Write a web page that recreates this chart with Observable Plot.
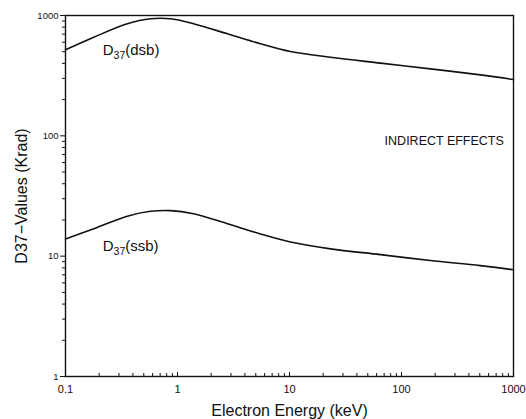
<!DOCTYPE html>
<html>
<head>
<meta charset="utf-8">
<script src="https://cdn.jsdelivr.net/npm/d3@7"></script>
<script src="https://cdn.jsdelivr.net/npm/@observablehq/plot@0.6"></script>
<style>
  html, body { margin: 0; padding: 0; background: #fff; }
  #chart { width: 526px; height: 419px; }
  svg { font-family: "Liberation Sans", "DejaVu Sans", sans-serif; }
</style>
</head>
<body>
<div id="chart"></div>
<script>
// Electron energy (keV)
const energy = [0.1, 0.179, 0.356, 0.574, 0.866, 1.39, 2.79, 5.5, 10.2, 23.2, 65, 181, 507, 1000];
// D37 values (krad), double-strand breaks
const dsb = [519, 660, 853, 939, 939, 853, 705, 582, 502, 450, 402, 360, 321, 294];
// D37 values (krad), single-strand breaks
const ssb = [13.9, 16.9, 21.5, 23.6, 23.9, 22.5, 18.6, 15.3, 13.1, 11.5, 10.3, 9.2, 8.35, 7.7];

const xMajor = [0.1, 1, 10, 100, 1000];
const yMajor = [1, 10, 100, 1000];
const xMinor = d3.range(-1, 3).flatMap(e => d3.range(2, 10).map(m => m * 10 ** e));
const yMinor = d3.range(0, 3).flatMap(e => d3.range(2, 10).map(m => m * 10 ** e));

const series = [
  ...energy.map((x, i) => ({x, y: dsb[i], s: "dsb"})),
  ...energy.map((x, i) => ({x, y: ssb[i], s: "ssb"}))
];

const curveLabels = [
  {x: 0.215, y: 512, t: "D₃₇(dsb)", sub: "37", rest: "(dsb)"},
  {x: 0.215, y: 12.2, t: "D₃₇(ssb)", sub: "37", rest: "(ssb)"}
];
const noteLabel = [{x: 820, y: 91, t: "INDIRECT EFFECTS"}];
const blank = () => "";

const chart = Plot.plot({
  width: 526,
  height: 419,
  marginLeft: 65,
  marginRight: 13,
  marginTop: 15,
  marginBottom: 43,
  style: {fontSize: "11px", color: "#111", background: "#fff"},
  x: {type: "log", domain: [0.1, 1000]},
  y: {type: "log", domain: [1, 1000]},
  marks: [
    Plot.frame({stroke: "#111", strokeWidth: 1.4}),
    Plot.axisX(xMinor, {tickSize: -3, tickFormat: blank, label: null}),
    Plot.axisX(xMajor, {tickSize: -4, tickPadding: 13, tickFormat: d => String(d), fontSize: 11,
      label: "Electron Energy (keV)", labelAnchor: "center", labelArrow: "none", labelOffset: 39}),
    Plot.axisY(yMinor, {tickSize: 3, tickFormat: blank, label: null}),
    Plot.axisY(yMajor, {tickSize: 5, tickPadding: 2, tickFormat: d => String(d), fontSize: 9.5,
      label: "D37−Values (Krad)", labelAnchor: "center", labelArrow: "none", labelOffset: 50}),
    Plot.line(series, {x: "x", y: "y", z: "s", curve: "catmull-rom", stroke: "#111", strokeWidth: 1.6}),
    Plot.text(curveLabels, {x: "x", y: "y", text: "t", textAnchor: "start", fontSize: 15, fill: "#111"}),
    Plot.text(noteLabel, {x: "x", y: "y", text: "t", textAnchor: "end", fontSize: 12.5, fill: "#111"})
  ]
});
chart.querySelectorAll("g[aria-label='x-axis label'] text, g[aria-label='y-axis label'] text")
  .forEach(t => t.setAttribute("font-size", "16"));
// Real subscripts for the curve labels (text kept as text)
const ns = "http://www.w3.org/2000/svg";
chart.querySelectorAll("text").forEach(t => {
  const lab = curveLabels.find(l => l.t === t.textContent);
  if (!lab) return;
  t.textContent = "D";
  const s = document.createElementNS(ns, "tspan");
  s.setAttribute("font-size", "10.5"); s.setAttribute("dy", "4"); s.textContent = lab.sub;
  const r = document.createElementNS(ns, "tspan");
  r.setAttribute("dy", "-4"); r.textContent = lab.rest;
  t.append(s, r);
});
document.getElementById("chart").appendChild(chart);
</script>
</body>
</html>
